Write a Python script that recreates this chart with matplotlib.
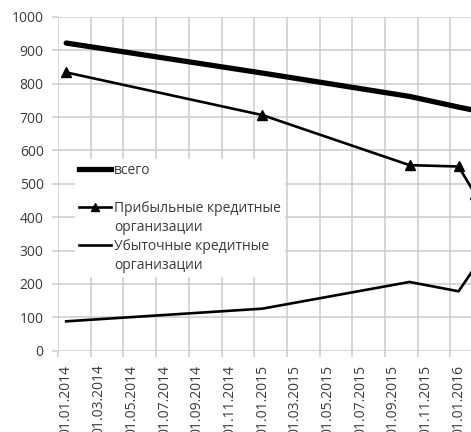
import matplotlib.pyplot as plt
from matplotlib.lines import Line2D

plt.rcParams['font.family'] = ['Open Sans', 'DejaVu Sans']

# data
dates = ['01.01.2014', '01.01.2015', '01.10.2015', '01.01.2016', '01.02.2016']
total = [922, 832, 762, 730, 720]
profit = [834, 706, 556, 552, 470]
loss = [88, 126, 206, 178, 250]
tick_dates = ['01.01.2014', '01.03.2014', '01.05.2014', '01.07.2014', '01.09.2014',
              '01.11.2014', '01.01.2015', '01.03.2015', '01.05.2015', '01.07.2015',
              '01.09.2015', '01.11.2015', '01.01.2016']
y_ticks = [0, 100, 200, 300, 400, 500, 600, 700, 800, 900, 1000]


def month_idx(s):
    d, m, y = s.split('.')
    return (int(y) - 2014) * 12 + int(m) - 1


# points sit in the middle of their month slot
x = [month_idx(d) + 0.5 for d in dates]

W, H = 471, 432
fig = plt.figure(figsize=(W / 100, H / 100), dpi=100)
ax = fig.add_axes([58 / W, (H - 350.7) / H, 1 - 58 / W, (350.7 - 17) / H])

grid_c = '#cccccc'
ax.plot(x, total, color='black', lw=3.8, solid_capstyle='round', zorder=3)
ax.plot(x, profit, color='black', lw=1.9, marker='^', ms=7, zorder=3)
ax.plot(x, loss, color='black', lw=1.9, zorder=3)

ax.set_xlim(0, (W - 58) / 16.35)
ax.set_ylim(0, 1000)

major = [month_idx(d) for d in tick_dates]
ax.set_xticks(major)
ax.set_xticklabels([])
ax.set_xticks([m + 0.5 for m in major], minor=True)
ax.set_xticklabels(tick_dates, minor=True, rotation=90, va='top', ha='center')
ax.set_yticks(y_ticks)
ax.tick_params(axis='x', which='major', length=4.3, color=grid_c, width=1.1)
ax.tick_params(axis='x', which='minor', length=0, pad=10, labelsize=10, labelcolor='#3a3a3a')
ax.tick_params(axis='y', length=4.3, color=grid_c, width=1.1, pad=6, labelsize=10,
               labelcolor='#3a3a3a')
ax.grid(True, which='major', color=grid_c, lw=1.1)
ax.set_axisbelow(True)
for s in ax.spines.values():
    s.set_visible(False)

# legend rows follow the reference: one free row after "всего",
# second line of each long label on its own row
handles = [
    Line2D([], [], color='black', lw=3.8),
    Line2D([], [], color='none'),
    Line2D([], [], color='black', lw=1.9, marker='^', ms=6),
    Line2D([], [], color='none'),
    Line2D([], [], color='black', lw=1.9),
    Line2D([], [], color='none'),
]
labels = ['всего', ' ', 'Прибыльные кредитные', 'организации',
          'Убыточные кредитные', 'организации']
leg = ax.legend(handles, labels, loc='upper left',
                bbox_to_anchor=(75 / W, (H - 159) / H), bbox_transform=fig.transFigure,
                frameon=True, facecolor='white', edgecolor='none', fancybox=False,
                framealpha=1, fontsize=10, labelspacing=0.29, handlelength=2.3,
                handletextpad=0.2, borderpad=0.3, borderaxespad=0)
for t in leg.get_texts():
    t.set_color('#3a3a3a')
leg.set_zorder(5)

fig.savefig('out.png', dpi=100)
